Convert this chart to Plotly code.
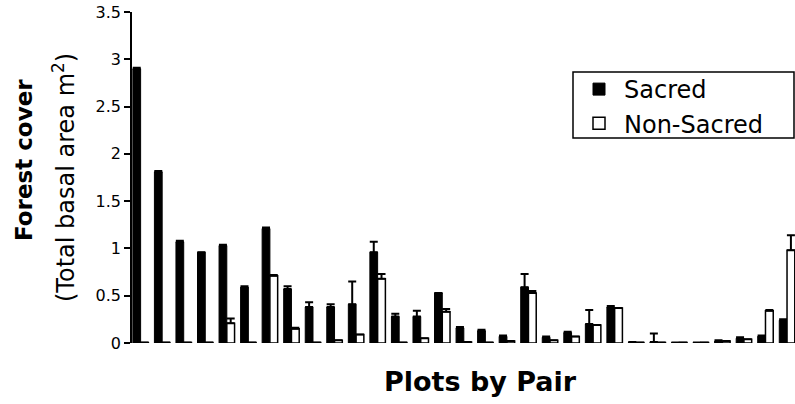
import plotly.graph_objects as go

pairs = list(range(1, 32))
sacred = [2.90, 1.81, 1.07, 0.96, 1.03, 0.59, 1.21, 0.57, 0.38, 0.38,
          0.41, 0.96, 0.28, 0.28, 0.53, 0.16, 0.13, 0.07, 0.59, 0.06,
          0.11, 0.20, 0.38, 0.01, 0.01, 0.005, 0.005, 0.02, 0.05, 0.07, 0.24]
sacred_err = [0.01, 0.01, 0.01, 0.0, 0.01, 0.01, 0.01, 0.03, 0.05, 0.03,
              0.24, 0.11, 0.03, 0.06, 0.0, 0.01, 0.01, 0.01, 0.14, 0.01,
              0.01, 0.15, 0.01, 0.0, 0.09, 0.0, 0.0, 0.01, 0.01, 0.01, 0.01]
non_sacred = [0.005, 0.005, 0.005, 0.005, 0.21, 0.005, 0.71, 0.15, 0.005, 0.03,
              0.09, 0.68, 0.005, 0.05, 0.33, 0.01, 0.005, 0.02, 0.53, 0.03,
              0.07, 0.19, 0.37, 0.005, 0.005, 0.005, 0.005, 0.02, 0.04, 0.34, 0.98]
non_sacred_err = [0.0, 0.0, 0.0, 0.0, 0.05, 0.0, 0.01, 0.01, 0.0, 0.0,
                  0.0, 0.05, 0.0, 0.0, 0.03, 0.0, 0.0, 0.0, 0.02, 0.0,
                  0.0, 0.0, 0.0, 0.0, 0.0, 0.0, 0.0, 0.0, 0.0, 0.01, 0.16]
y_ticks = [0, 0.5, 1, 1.5, 2, 2.5, 3, 3.5]
y_tick_labels = ["0", "0.5", "1", "1.5", "2", "2.5", "3", "3.5"]

FONT = "DejaVu Sans"
xs = [p - 1 for p in pairs]
zeros = [0] * len(pairs)

fig = go.Figure()
fig.add_trace(go.Bar(
    x=xs, y=sacred, name="Sacred",
    marker=dict(color="black", line=dict(color="black", width=1)),
    error_y=dict(type="data", symmetric=False, array=sacred_err, arrayminus=zeros,
                 color="black", thickness=2, width=4),
))
fig.add_trace(go.Bar(
    x=xs, y=non_sacred, name="Non-Sacred",
    marker=dict(color="white", line=dict(color="black", width=1.5)),
    error_y=dict(type="data", symmetric=False, array=non_sacred_err, arrayminus=zeros,
                 color="black", thickness=2, width=4),
))

L, R, T, B = 132, 0, 12, 61
W, H = 795, 404
pw = W - L - R
ph = H - T - B

def px_x(p):
    return (p - L) / pw

def px_y(p):
    return (H - B - p) / ph

fig.update_layout(
    width=W, height=H,
    margin=dict(l=L, r=R, t=T, b=B, pad=0),
    paper_bgcolor="white", plot_bgcolor="white",
    barmode="group", bargap=0.28, bargroupgap=0,
    showlegend=True,
    legend=dict(
        x=px_x(574), y=px_y(67), xanchor="left", yanchor="top",
        borderwidth=0, bgcolor="rgba(0,0,0,0)",
        font=dict(family=FONT, size=24, color="black"),
        itemwidth=40, tracegroupgap=0,
    ),
    shapes=[
        dict(type="rect", xref="paper", yref="paper",
             x0=px_x(573), x1=px_x(794), y0=px_y(138), y1=px_y(72),
             line=dict(color="black", width=1.5), fillcolor="rgba(0,0,0,0)",
             layer="above"),
    ],
    font=dict(family=FONT, color="black"),
    xaxis=dict(range=[-0.40, 30.37], showticklabels=False, showline=False,
               showgrid=False, zeroline=False, ticks=""),
    yaxis=dict(range=[0, 3.5], tickvals=y_ticks, ticktext=y_tick_labels,
               showline=True, linecolor="black", linewidth=1.5,
               ticks="outside", ticklen=6, tickwidth=1.5, tickcolor="black",
               showgrid=False, zeroline=False,
               tickfont=dict(family=FONT, size=16, color="black")),
    annotations=[
        dict(text="<b>Forest cover</b>", xref="paper", yref="paper",
             x=px_x(24), y=px_y(160), xanchor="center", yanchor="middle",
             textangle=-90, showarrow=False,
             font=dict(family=FONT, size=23, color="black")),
        dict(text="(Total basal area m<sup>2</sup>)", xref="paper", yref="paper",
             x=px_x(64), y=px_y(178), xanchor="center", yanchor="middle",
             textangle=-90, showarrow=False,
             font=dict(family=FONT, size=24, color="black")),
        dict(text="<b>Plots by Pair</b>", xref="paper", yref="paper",
             x=px_x(480), y=px_y(381), xanchor="center", yanchor="middle",
             showarrow=False,
             font=dict(family=FONT, size=27, color="black")),
    ],
)

fig.write_html(
    "out.html",
    config={"displayModeBar": False},
    post_script="document.body.style.margin='0';document.body.style.overflow='hidden';",
)
